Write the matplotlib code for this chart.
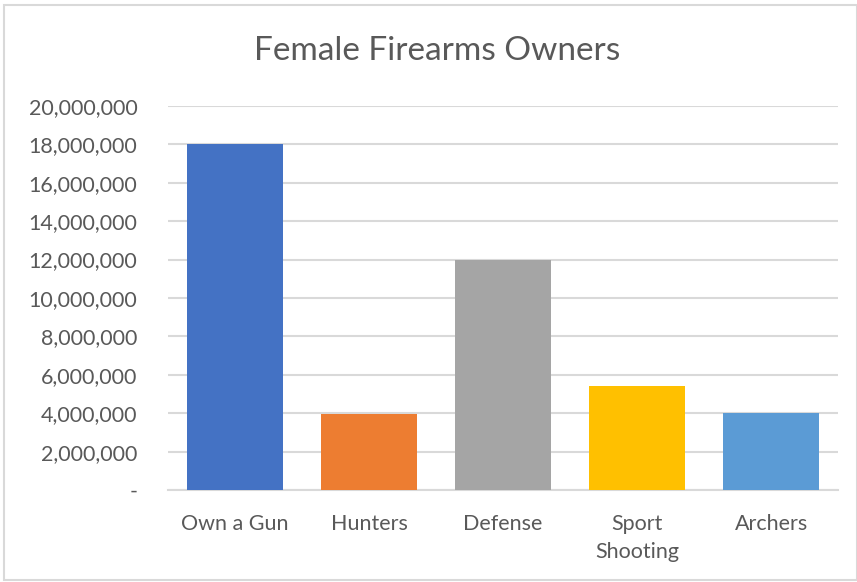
import matplotlib
matplotlib.use('Agg')
import matplotlib.pyplot as plt
from matplotlib.ticker import FuncFormatter
from matplotlib.patches import Rectangle

categories = ['Own a Gun', 'Hunters', 'Defense', 'Sport\nShooting', 'Archers']
owners = [18000000, 3950000, 12000000, 5400000, 4000000]
colors = ['#4472C4', '#ED7D31', '#A5A5A5', '#FFC000', '#5B9BD5']
yticks = list(range(0, 20000001, 2000000))

plt.rcParams['font.family'] = ['Lato', 'DejaVu Sans']

fig = plt.figure(figsize=(8.57, 5.82), dpi=100)
ax = fig.add_axes([0.196, 0.158, 0.782, 0.660])

ax.bar(range(len(categories)), owners, width=0.72, color=colors, zorder=3)

ax.set_xlim(-0.5, len(categories) - 0.5)
ax.set_ylim(0, 20000000)
ax.set_yticks(yticks)
ax.yaxis.set_major_formatter(FuncFormatter(lambda v, p: '-' if v == 0 else f'{int(v):,}'))
ax.set_xticks(range(len(categories)))
ax.set_xticklabels(categories, linespacing=1.55)

ax.grid(axis='y', color='#d9d9d9', linewidth=1.5, zorder=0)
for s in ['top', 'right', 'left']:
    ax.spines[s].set_visible(False)
ax.spines['bottom'].set_color('#d9d9d9')
ax.spines['bottom'].set_linewidth(1.5)
ax.tick_params(axis='both', length=0, labelsize=15.5, colors='#595959')
ax.tick_params(axis='y', pad=22)
ax.tick_params(axis='x', pad=17)

fig.text(0.510, 0.913, 'Female Firearms Owners', ha='center', va='center',
         fontsize=24, color='#595959')

fig.patches.append(Rectangle((0.005, 0.003), 0.995, 0.989, transform=fig.transFigure,
                             fill=False, edgecolor='#d9d9d9', linewidth=1.5))

fig.savefig('out.png', dpi=100)
